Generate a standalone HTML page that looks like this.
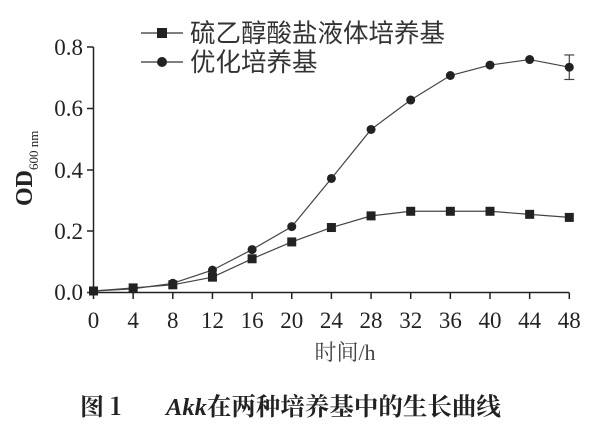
<!DOCTYPE html>
<html><head><meta charset="utf-8"><style>
html,body{margin:0;padding:0;background:#fff;}
svg text{font-family:"Liberation Serif","Noto Serif CJK SC",serif;}
</style></head><body>
<svg width="609" height="434" xmlns="http://www.w3.org/2000/svg">
<g stroke="#222" stroke-width="1.5" fill="none">
<line x1="93.5" y1="47" x2="93.5" y2="293"/>
<line x1="93.5" y1="292.5" x2="569" y2="292.5"/>
<line x1="87" y1="292.5" x2="93.5" y2="292.5"/><line x1="87" y1="231" x2="93.5" y2="231"/><line x1="87" y1="170" x2="93.5" y2="170"/><line x1="87" y1="108.5" x2="93.5" y2="108.5"/><line x1="87" y1="47" x2="93.5" y2="47"/>
</g>
<g font-size="23" fill="#222" text-anchor="end">
<text x="83" y="300">0.0</text><text x="83" y="239">0.2</text><text x="83" y="178">0.4</text><text x="83" y="116">0.6</text><text x="83" y="55">0.8</text>
</g>
<text x="0" y="0" font-size="24" font-weight="bold" fill="#222" transform="translate(32,206) rotate(-90)">OD<tspan font-size="13" font-weight="normal" dy="6">600 nm</tspan></text>
<g id="xt" stroke="#222" stroke-width="1.5"></g>
<g id="xl" font-size="23" fill="#222" text-anchor="middle"></g>
<text x="345" y="360" font-size="22" fill="#444" text-anchor="middle" font-family="Liberation Serif, Noto Sans CJK SC, sans-serif">时间/h</text>
<g id="series"></g>
<g stroke="#333" stroke-width="1.2"><line x1="141" y1="33" x2="183" y2="33"/><line x1="141" y1="62" x2="183" y2="62"/></g>
<rect x="157" y="28" width="10" height="10" fill="#222"/>
<circle cx="162" cy="62" r="5" fill="#222"/>
<text x="190" y="42" font-size="25.5" fill="#333" style="font-family:'Noto Sans CJK SC',sans-serif">硫乙醇酸盐液体培养基</text>
<text x="190" y="71" font-size="25.5" fill="#333" style="font-family:'Noto Sans CJK SC',sans-serif">优化培养基</text>
<text x="80" y="415" font-size="24" font-weight="bold" fill="#222" style="font-family:'Noto Serif CJK SC',serif">图 1</text>
<text x="166" y="415" font-size="24.5" font-weight="bold" fill="#222" style="font-family:'Liberation Serif','Noto Serif CJK SC',serif"><tspan font-style="italic">Akk</tspan>在两种培养基中的生长曲线</text>
</svg>
<script>
var x0=93.5,dx=39.65,y0=292.5,sy=306.5;
var ns="http://www.w3.org/2000/svg";
function el(t,a,p){var e=document.createElementNS(ns,t);for(var k in a)e.setAttribute(k,a[k]);document.getElementById(p).appendChild(e);return e;}
for(var i=0;i<=12;i++){var x=x0+i*dx;el('line',{x1:x,y1:292.5,x2:x,y2:299},'xt');var t=el('text',{x:x,y:328},'xl');t.textContent=i*4;}
var a=[0.005,0.015,0.025,0.05,0.11,0.165,0.212,0.25,0.265,0.265,0.265,0.255,0.245];
var b=[0.005,0.012,0.03,0.073,0.14,0.215,0.372,0.532,0.628,0.708,0.742,0.76,0.735];
function pts(v){return v.map(function(d,i){return (x0+i*dx)+','+(y0-d*sy)}).join(' ');}
el('polyline',{points:pts(b),fill:'none',stroke:'#444','stroke-width':1.2},'series');
el('polyline',{points:pts(a),fill:'none',stroke:'#444','stroke-width':1.2},'series');
var ex=x0+12*dx;
el('line',{x1:ex,y1:y0-0.775*sy,x2:ex,y2:y0-0.695*sy,stroke:'#444','stroke-width':1.2},'series');
el('line',{x1:ex-5,y1:y0-0.775*sy,x2:ex+5,y2:y0-0.775*sy,stroke:'#444','stroke-width':1.2},'series');
el('line',{x1:ex-5,y1:y0-0.695*sy,x2:ex+5,y2:y0-0.695*sy,stroke:'#444','stroke-width':1.2},'series');
b.forEach(function(d,i){el('circle',{cx:x0+i*dx,cy:y0-d*sy,r:4.5,fill:'#222'},'series');});
a.forEach(function(d,i){el('rect',{x:x0+i*dx-4.5,y:y0-d*sy-4.5,width:9,height:9,fill:'#222'},'series');});
</script>
</body></html>
